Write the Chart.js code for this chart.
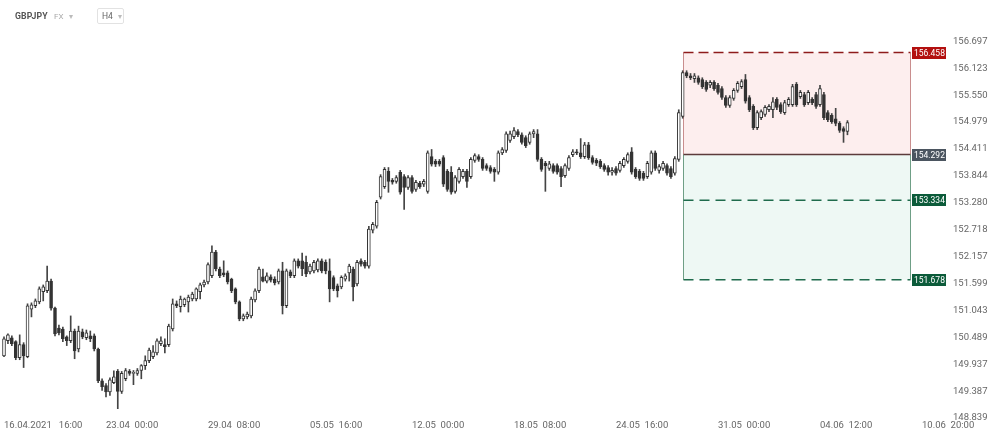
<!DOCTYPE html>
<html>
<head>
<meta charset="utf-8">
<style>
  html, body { margin: 0; padding: 0; background: #fff; }
  #wrap { position: relative; width: 999px; height: 439px; overflow: hidden; }
  #chart { position: absolute; left: 0; top: 0; }
  .hdr { position: absolute; font-family: Roboto, sans-serif; white-space: nowrap; }
  .sym { left: 15px; top: 11px; font-size: 8.7px; font-weight: 700; color: #555; letter-spacing: 0.1px; }
  .fx { left: 54px; top: 12px; font-size: 8px; color: #aaa; }
  .caret { font-size: 8px; color: #bbb; }
  .tf { left: 97px; top: 8px; width: 27px; height: 16px; border: 1px solid #e2e2e2; border-radius: 2px;
        font-size: 8.5px; color: #666; line-height: 15px; padding-left: 4px; box-sizing: border-box; }
</style>
<script src="https://cdn.jsdelivr.net/npm/chart.js@4.4.1/dist/chart.umd.min.js"></script>
</head>
<body>
<div id="wrap">
  <canvas id="chart" width="999" height="439"></canvas>
  <div class="hdr sym">GBPJPY</div>
  <div class="hdr fx">FX <span class="caret" style="margin-left:4px">&#9662;</span></div>
  <div class="hdr tf">H4 <span class="caret" style="margin-left:3px">&#9662;</span></div>
</div>
<script>
// GBPJPY H4 candles (oldest first)
const opens = [
  150.11, 150.42, 150.48, 150.40, 150.07, 150.34, 150.09, 151.07, 151.14, 151.22,
  151.43, 151.45, 151.65, 151.09, 150.68, 150.66, 150.50, 150.42, 150.62, 150.25,
  150.60, 150.48, 150.52, 150.52, 150.25, 149.60, 149.50, 149.37, 149.56, 149.79,
  149.38, 149.64, 149.79, 149.75, 149.75, 149.81, 149.91, 150.01, 150.09, 150.17,
  150.36, 150.34, 150.34, 150.66, 151.18, 151.12, 151.16, 151.22, 151.28, 151.28,
  151.43, 151.57, 151.63, 151.76, 152.25, 151.90, 151.82, 151.82, 151.69, 151.49,
  151.22, 150.87, 150.91, 150.93, 151.26, 151.45, 151.74, 151.65, 151.74, 151.69,
  151.63, 151.86, 151.14, 151.84, 151.76, 152.07, 152.07, 152.04, 151.84, 151.86,
  151.88, 152.07, 152.04, 151.86, 151.72, 151.55, 151.53, 151.69, 151.82, 151.90,
  151.59, 152.07, 152.04, 151.96, 152.71, 152.79, 153.40, 153.62, 153.94, 153.75,
  153.73, 153.92, 153.83, 153.60, 153.81, 153.56, 153.69, 153.67, 153.52, 154.25,
  154.15, 154.15, 154.23, 153.94, 153.92, 153.52, 153.73, 153.83, 153.94,
  153.83, 154.17, 154.25, 154.19, 154.06, 154.02, 153.98, 153.92, 154.33,
  154.38, 154.59, 154.67, 154.78, 154.71, 154.65, 154.55, 154.73, 154.73, 154.19,
  154.11, 154.00, 154.06, 154.06, 154.00, 153.85, 154.00, 154.29, 154.35, 154.33,
  154.25, 154.50, 154.23, 154.17, 154.15, 154.06, 154.02, 153.92,
  154.00, 153.96, 154.06, 154.15, 154.35, 153.98, 153.94, 153.90, 153.83, 153.92,
  154.33, 153.96, 154.00, 154.06, 154.00, 153.90, 154.19, 155.10, 156.03, 155.96,
  155.90, 155.92, 155.88, 155.82, 155.76, 155.82, 155.76, 155.69, 155.50,
  155.33, 155.48, 155.65, 155.73, 155.88, 155.50, 155.31, 154.86, 155.07, 155.14,
  155.24, 155.24, 155.46, 155.35, 155.18, 155.35, 155.35, 155.78, 155.52, 155.56,
  155.39, 155.46, 155.56, 155.35, 155.56, 155.18, 155.12, 155.05, 154.95, 154.84,
  154.78
];
const highs = [
  150.50, 150.56, 150.52, 150.42, 150.54, 150.38, 151.18, 151.20, 151.28, 151.53,
  151.57, 151.96, 151.69, 151.11, 150.74, 150.70, 150.52, 150.93, 150.66, 150.72,
  150.66, 150.64, 150.62, 150.56, 150.27, 149.64, 149.54, 149.66, 149.80, 149.83,
  149.79, 149.85, 149.83, 149.81, 149.85, 149.93, 150.11, 150.27, 150.32, 150.46,
  150.50, 150.46, 150.76, 151.28, 151.24, 151.34, 151.30, 151.36, 151.42, 151.51,
  151.61, 151.67, 152.03, 152.38, 152.29, 151.94, 152.07, 151.86, 151.71, 151.51,
  151.24, 150.97, 151.01, 151.32, 151.49, 151.94, 151.90, 151.82, 151.78, 151.74,
  151.90, 152.04, 151.90, 151.88, 152.11, 152.11, 152.23, 152.17, 152.00, 152.08,
  152.11, 152.11, 152.09, 152.11, 151.76, 151.59, 151.76, 151.80, 152.00, 151.94,
  152.08, 152.11, 152.08, 152.79, 152.87, 153.33, 153.87, 154.02, 154.02, 153.79,
  153.85, 153.96, 153.87, 153.85, 153.85, 153.75, 153.73, 153.77, 154.37, 154.40,
  154.19, 154.19, 154.27, 153.98, 154.04, 153.85, 154.02, 153.98, 153.98,
  154.23, 154.31, 154.29, 154.23, 154.10, 154.06, 154.02, 154.37, 154.44,
  154.77, 154.79, 154.86, 154.82, 154.75, 154.69, 154.77, 154.82, 154.82, 154.23,
  154.15, 154.15, 154.10, 154.10, 154.04, 154.10, 154.27, 154.40, 154.40, 154.63,
  154.55, 154.55, 154.27, 154.21, 154.19, 154.10, 154.06, 154.02,
  154.04, 154.15, 154.23, 154.33, 154.44, 154.02, 153.98, 153.94, 154.15, 154.37,
  154.37, 154.08, 154.15, 154.10, 154.04, 154.25, 155.24, 156.07, 156.07, 156.01,
  156.01, 155.96, 155.92, 155.86, 155.86, 155.86, 155.80, 155.73, 155.54,
  155.54, 155.69, 155.84, 155.88, 155.99, 155.54, 155.35, 155.22, 155.24, 155.33,
  155.35, 155.50, 155.50, 155.39, 155.44, 155.50, 155.78, 155.82, 155.65, 155.61,
  155.65, 155.50, 155.61, 155.76, 155.61, 155.22, 155.16, 155.27, 154.99, 154.88,
  155.01
];
const lows = [
  150.09, 150.36, 150.32, 150.03, 150.03, 149.87, 150.07, 150.91, 151.10, 151.18,
  151.24, 151.41, 151.05, 150.52, 150.54, 150.40, 150.32, 150.38, 150.05, 150.19,
  150.46, 150.44, 150.40, 150.21, 149.56, 149.40, 149.27, 149.30, 149.54, 149.03,
  149.34, 149.60, 149.71, 149.52, 149.71, 149.64, 149.83, 149.97, 150.05, 150.13,
  150.32, 150.17, 150.30, 150.62, 151.10, 151.01, 151.12, 151.01, 151.24, 151.24,
  151.28, 151.53, 151.59, 151.72, 151.86, 151.72, 151.74, 151.59, 151.41, 151.18,
  150.83, 150.83, 150.87, 150.89, 151.22, 151.41, 151.63, 151.61, 151.63, 151.57,
  151.59, 150.97, 151.10, 151.72, 151.72, 151.92, 151.76, 151.74, 151.80, 151.82,
  151.84, 151.82, 151.80, 151.22, 151.45, 151.32, 151.49, 151.65, 151.65, 151.24,
  151.55, 151.96, 151.92, 151.92, 152.65, 152.75, 153.36, 153.58, 153.50, 153.67,
  153.69, 153.46, 153.14, 153.56, 153.48, 153.52, 153.58, 153.62, 153.48, 154.05,
  154.04, 154.05, 153.62, 153.52, 153.46, 153.48, 153.69, 153.79, 153.60,
  153.79, 154.13, 154.15, 153.96, 153.96, 153.90, 153.73, 153.88, 154.29,
  154.34, 154.55, 154.63, 154.67, 154.51, 154.44, 154.51, 154.65, 154.15, 153.94,
  153.52, 153.96, 153.90, 153.88, 153.62, 153.81, 153.96, 154.25, 154.29, 154.21,
  154.21, 154.19, 154.09, 154.06, 154.00, 153.94, 153.86, 153.86,
  153.86, 153.92, 154.02, 154.11, 153.88, 153.79, 153.75, 153.75, 153.79, 153.88,
  153.96, 153.90, 153.96, 153.86, 153.79, 153.86, 154.15, 155.06, 155.92, 155.88,
  155.82, 155.78, 155.69, 155.63, 155.71, 155.65, 155.57, 155.46, 155.29,
  155.29, 155.44, 155.61, 155.69, 155.38, 155.20, 154.82, 154.82, 155.03, 155.10,
  155.20, 155.07, 155.24, 155.16, 155.14, 155.31, 155.31, 155.31, 155.48, 155.31,
  155.35, 155.35, 155.27, 155.31, 155.03, 154.99, 154.95, 154.90, 154.76, 154.55,
  154.71
];
const closes = [
  150.46, 150.54, 150.36, 150.07, 150.34, 150.11, 151.14, 151.16, 151.24, 151.49,
  151.53, 151.65, 151.09, 150.56, 150.58, 150.46, 150.42, 150.62, 150.21, 150.62,
  150.50, 150.58, 150.46, 150.25, 149.60, 149.48, 149.37, 149.62, 149.68, 149.38,
  149.75, 149.81, 149.75, 149.77, 149.81, 149.91, 150.01, 150.23, 150.19, 150.42,
  150.42, 150.30, 150.72, 151.18, 151.14, 151.28, 151.28, 151.32, 151.38, 151.49,
  151.57, 151.63, 151.99, 152.25, 151.90, 151.76, 151.78, 151.63, 151.45, 151.22,
  150.87, 150.93, 150.97, 151.28, 151.45, 151.90, 151.65, 151.76, 151.67, 151.61,
  151.86, 151.14, 151.86, 151.76, 152.07, 151.96, 151.90, 151.80, 151.96, 152.04,
  152.07, 151.86, 151.86, 151.49, 151.49, 151.45, 151.73, 151.76, 151.96, 151.53,
  152.04, 152.00, 151.96, 152.73, 152.83, 153.29, 153.83, 153.98, 153.73, 153.71,
  153.81, 153.50, 153.60, 153.81, 153.52, 153.71, 153.62, 153.73, 154.33, 154.09,
  154.09, 154.09, 153.67, 153.56, 153.50, 153.81, 153.98, 153.94, 153.73,
  154.19, 154.27, 154.19, 154.00, 154.00, 153.94, 153.92, 154.33, 154.40,
  154.73, 154.73, 154.80, 154.71, 154.55, 154.48, 154.73, 154.78, 154.19, 153.98,
  154.06, 154.10, 153.94, 153.92, 153.83, 154.06, 154.23, 154.35, 154.33, 154.25,
  154.50, 154.23, 154.13, 154.11, 154.04, 153.98, 153.92, 153.96,
  153.90, 154.11, 154.19, 154.29, 153.92, 153.83, 153.79, 153.79, 154.11, 154.33,
  154.00, 154.04, 154.11, 153.90, 153.83, 154.21, 155.18, 156.03, 155.96, 155.92,
  155.96, 155.82, 155.73, 155.67, 155.82, 155.69, 155.61, 155.50, 155.33,
  155.50, 155.65, 155.80, 155.84, 155.42, 155.24, 154.86, 155.18, 155.20, 155.29,
  155.31, 155.41, 155.29, 155.20, 155.39, 155.46, 155.73, 155.35, 155.61, 155.35,
  155.61, 155.39, 155.31, 155.69, 155.07, 155.03, 154.99, 154.95, 154.80, 154.78,
  154.97
];

// axis labels
const xLabels = ['16.04.2021   16:00', '23.04  00:00', '29.04  08:00', '05.05  16:00', '12.05  00:00',
                 '18.05  08:00', '24.05  16:00', '31.05  00:00', '04.06  12:00', '10.06  20:00'];
const yTicks = [156.697, 156.123, 155.550, 154.979, 154.411, 153.844, 153.280, 152.718,
                152.157, 151.599, 151.043, 150.489, 149.937, 149.387, 148.839];

// trade levels
const takeProfit = 156.458;
const entry = 154.292;
const stopNear = 153.334;
const stopFar = 151.678;

// view settings
const X_MIN = -1.02, X_MAX = 240.63;
const LABEL_EVERY = 26;          // bars between time labels
const BOX_FROM = 173.2, BOX_TO = 230.9;
const Y_MIN = 148.83, Y_MAX = 156.94;

const FONT = 'Roboto, "Open Sans", sans-serif';

const bodies = opens.map((o, i) => ({ x: i, y: [o, closes[i]] }));
const wicks = opens.map((o, i) => ({ x: i, y: [lows[i], highs[i]] }));
const isUp = i => closes[i] >= opens[i];

const tradeBox = {
  id: 'tradeBox',
  beforeDatasetsDraw(chart) {
    const { ctx, scales: { x, y } } = chart;
    const x0 = Math.round(x.getPixelForValue(BOX_FROM)) + 0.5;
    const x1 = Math.round(x.getPixelForValue(BOX_TO)) + 0.5;
    const yTp = y.getPixelForValue(takeProfit);
    const yEn = y.getPixelForValue(entry);
    const yS1 = y.getPixelForValue(stopNear);
    const yS2 = y.getPixelForValue(stopFar);
    ctx.save();
    // profit zone
    ctx.fillStyle = '#fdeeee';
    ctx.fillRect(x0, yTp, x1 - x0, yEn - yTp);
    // loss zone
    ctx.fillStyle = '#eef8f4';
    ctx.fillRect(x0, yEn, x1 - x0, yS2 - yEn);
    // sides
    ctx.lineWidth = 1;
    ctx.strokeStyle = '#c98e8e';
    ctx.beginPath();
    ctx.moveTo(x0, yTp); ctx.lineTo(x0, yEn);
    ctx.moveTo(x1, yTp); ctx.lineTo(x1, yEn);
    ctx.stroke();
    ctx.strokeStyle = '#6f9f86';
    ctx.beginPath();
    ctx.moveTo(x0, yEn); ctx.lineTo(x0, yS2);
    ctx.moveTo(x1, yEn); ctx.lineTo(x1, yS2);
    ctx.stroke();
    // level lines
    const hline = (py, color, dash) => {
      ctx.strokeStyle = color;
      ctx.lineWidth = 1.5;
      ctx.setLineDash(dash);
      ctx.beginPath();
      ctx.moveTo(x0, py); ctx.lineTo(x1, py);
      ctx.stroke();
    };
    hline(yTp, '#8e1c1c', [10, 5]);
    hline(yEn, '#5c3b3b', []);
    hline(yS1, '#1f6b4c', [10, 6]);
    hline(yS2, '#1f6b4c', [10, 6]);
    ctx.restore();
  },
  afterDatasetsDraw(chart) {
    const { ctx, scales: { x, y } } = chart;
    const x1 = Math.round(x.getPixelForValue(BOX_TO)) + 2;
    const tag = (value, bg) => {
      const py = Math.round(y.getPixelForValue(value));
      ctx.fillStyle = bg;
      ctx.fillRect(x1, py - 6, 34, 12);
      ctx.fillStyle = '#fff';
      ctx.font = '8.5px ' + FONT;
      ctx.textAlign = 'left';
      ctx.textBaseline = 'middle';
      ctx.fillText(value.toFixed(3), x1 + 2, py + 0.5);
    };
    ctx.save();
    tag(takeProfit, '#b3100f');
    tag(entry, '#4b5560');
    tag(stopNear, '#0c5b3a');
    tag(stopFar, '#0c5b3a');
    ctx.restore();
  },
  // time labels, left-aligned on their bar like the original platform
  afterDraw(chart) {
    const { ctx, chartArea, scales: { x } } = chart;
    ctx.save();
    ctx.font = '9.5px ' + FONT;
    ctx.fillStyle = '#666';
    ctx.textAlign = 'left';
    ctx.textBaseline = 'middle';
    xLabels.forEach((t, k) => {
      ctx.fillText(t, x.getPixelForValue(k * LABEL_EVERY), chartArea.bottom + 6);
    });
    ctx.restore();
  }
};

const ctx = document.getElementById('chart').getContext('2d');
new Chart(ctx, {
  type: 'bar',
  data: {
    datasets: [
      {
        label: 'body',
        data: bodies,
        barThickness: 3,
        grouped: false,
        order: 1,
        borderWidth: 1,
        borderSkipped: false,
        borderColor: '#333',
        backgroundColor: c => isUp(c.dataIndex) ? '#fff' : '#333'
      },
      {
        label: 'wick',
        data: wicks,
        barThickness: 1,
        grouped: false,
        order: 2,
        borderWidth: 0,
        backgroundColor: '#444'
      }
    ]
  },
  options: {
    responsive: false,
    animation: false,
    events: [],
    layout: { padding: { top: 30, left: 0, right: 0, bottom: 0 } },
    plugins: { legend: { display: false }, tooltip: { enabled: false } },
    scales: {
      x: {
        type: 'linear',
        offset: false,
        bounds: 'data',
        min: X_MIN,
        max: X_MAX,
        grid: { display: false, drawTicks: false, offset: false },
        border: { display: false },
        afterFit: s => { s.height = 19; },
        ticks: { display: false }
      },
      y: {
        type: 'logarithmic',
        position: 'right',
        min: Y_MIN,
        max: Y_MAX,
        grid: { display: false, drawTicks: false },
        border: { display: false },
        afterBuildTicks: s => { s.ticks = yTicks.map(v => ({ value: v })); },
        afterFit: s => { s.width = 51; },
        ticks: {
          callback: v => Number(v).toFixed(3),
          autoSkip: false,
          padding: 5,
          color: '#666',
          font: { family: FONT, size: 9.5 }
        }
      }
    }
  },
  plugins: [tradeBox]
});
</script>
</body>
</html>
